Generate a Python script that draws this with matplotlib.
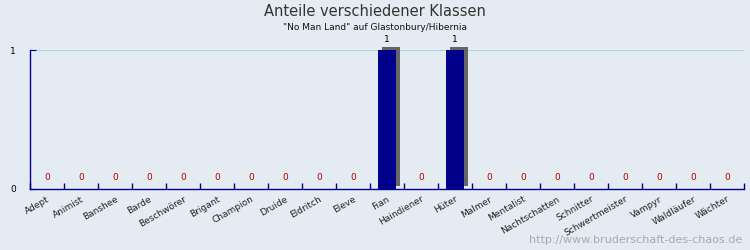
import matplotlib
matplotlib.use('Agg')
import matplotlib.pyplot as plt
import matplotlib.patheffects as pe
import numpy as np

classes = ['Adept', 'Animist', 'Banshee', 'Barde', 'Beschwörer', 'Brigant', 'Champion',
           'Druide', 'Eldritch', 'Eleve', 'Fian', 'Haindiener', 'Hüter', 'Malmer',
           'Mentalist', 'Nachtschatten', 'Schnitter', 'Schwertmeister', 'Vampyr',
           'Waldläufer', 'Wächter']
counts = [0, 0, 0, 0, 0, 0, 0, 0, 0, 0, 1, 0, 1, 0, 0, 0, 0, 0, 0, 0, 0]

bg = '#e5ebf2'
navy = '#00008b'

fig = plt.figure(figsize=(7.5, 2.5), dpi=100, facecolor=bg)
ax = fig.add_axes([0.04, 0.244, 0.952, 0.556], facecolor=bg)

x = np.arange(len(classes))
bars = ax.bar(x, counts, width=0.53, color=navy, zorder=3,
              path_effects=[pe.SimplePatchShadow(offset=(3, 2), shadow_rgbFace='#666666', alpha=1),
                            pe.Normal()])
for b in bars:
    b.set_clip_on(False)

for xi, v in zip(x, counts):
    if v > 0:
        ax.annotate(str(v), (xi, v), xytext=(0, 4), textcoords='offset points',
                    ha='center', va='bottom', fontsize=6.5, color='black')
    else:
        ax.annotate(str(v), (xi, 0), xytext=(0, 5), textcoords='offset points',
                    ha='center', va='bottom', fontsize=6.5, color='#b00000')

ax.set_xlim(-0.5, len(classes) - 0.5)
ax.set_ylim(0, 1)
ax.axhline(1, color='#a8d8e8', lw=0.8, zorder=1)

ax.set_xticks(np.arange(len(classes) + 1) - 0.5, minor=False)
ax.set_xticklabels([])
ax.tick_params(axis='x', which='major', direction='in', length=4, color=navy, width=1)
ax.set_xticks(x, minor=True)
ax.set_xticklabels(classes, minor=True, rotation=30, ha='right', rotation_mode='anchor',
                   fontsize=6.5, color='#222222')
ax.tick_params(axis='x', which='minor', length=0, pad=4)

ax.set_yticks([0, 1])
ax.set_yticklabels(['0', '1'], fontsize=6.5)
ax.tick_params(axis='y', direction='in', length=4, color=navy, pad=10)

for s in ['top', 'right']:
    ax.spines[s].set_visible(False)
for s in ['left', 'bottom']:
    ax.spines[s].set_color(navy)
    ax.spines[s].set_linewidth(1)
ax.spines['bottom'].set_zorder(4)

fig.text(0.5, 0.955, 'Anteile verschiedener Klassen', ha='center', va='center',
         fontsize=10.5, color='#333333')
fig.text(0.5, 0.89, '"No Man Land" auf Glastonbury/Hibernia', ha='center', va='center',
         fontsize=6.5, color='#111111')
fig.text(0.99, 0.04, 'http://www.bruderschaft-des-chaos.de', ha='right', va='center',
         fontsize=8, color='#aaaaaa')

fig.savefig('out.png', dpi=100, facecolor=bg)
